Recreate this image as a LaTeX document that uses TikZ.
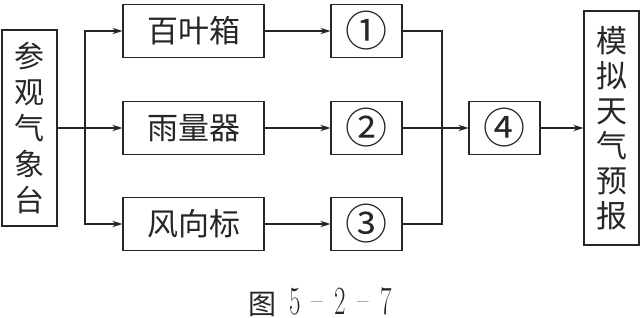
\documentclass[tikz,border=0pt]{standalone}
\usepackage{fontspec}
\newfontfamily\cjk{Noto Sans CJK SC}
\usetikzlibrary{arrows.meta}
\begin{document}
\begin{tikzpicture}[x=1pt,y=1pt,line width=1.3pt,color=black!85,
  box/.style={draw,rectangle,inner sep=0pt,align=center,
    font=\cjk\fontsize{31}{35}\selectfont},
  vbox/.style={box,minimum width=55pt},
  hbox/.style={box,minimum width=141pt,minimum height=53pt},
  nbox/.style={box,minimum width=71pt,minimum height=53pt,font=\cjk\fontsize{42}{44}\selectfont},
  arr/.style={-{Stealth[length=10pt,width=6.5pt]}},
  dig/.style={}]
\useasboundingbox (0,0) rectangle (641,-318);
\node[vbox,minimum height=196pt,font=\cjk\fontsize{30}{36}\selectfont] (L) at (29.5,-128) {参\\观\\气\\象\\台};
\node[hbox] (r1) at (193.5,-31) {百叶箱};
\node[hbox] (r2) at (193.5,-128) {雨量器};
\node[hbox] (r3) at (193.5,-224) {风向标};
\node[nbox] (c1) at (366.5,-31) {①};
\node[nbox] (c2) at (366.5,-128) {②};
\node[nbox] (c3) at (366.5,-224) {③};
\node[nbox] (c4) at (504.5,-128) {④};
\node[vbox,minimum height=234pt] (R) at (611.5,-128) {模\\拟\\天\\气\\预\\报};
\coordinate (bs) at (85,-128);
\coordinate (jn) at (442,-128);
\draw[arr] (L.east) -- (r2.west);
\draw[arr] (bs) |- (r1.west);
\draw[arr] (bs) |- (r3.west);
\draw[arr] (r1) -- (c1);
\draw[arr] (r2) -- (c2);
\draw[arr] (r3) -- (c3);
\draw (c1.east) -| (jn);
\draw (c3.east) -| (jn);
\draw[arr] (c2) -- (c4);
\draw[arr] (c4) -- (R);
\node[inner sep=0pt] (cap) at (320.5,-302)
  {{\cjk\fontsize{28}{30}\selectfont 图}\hspace{13pt}{\fontsize{25}{30}\selectfont\scalebox{1}[1.6]{5}\hspace{10pt}\raisebox{6pt}{--}\hspace{12pt}\scalebox{1}[1.6]{2}\hspace{11pt}\raisebox{6pt}{--}\hspace{12pt}\scalebox{1}[1.6]{7}}};
\end{tikzpicture}
\end{document}
